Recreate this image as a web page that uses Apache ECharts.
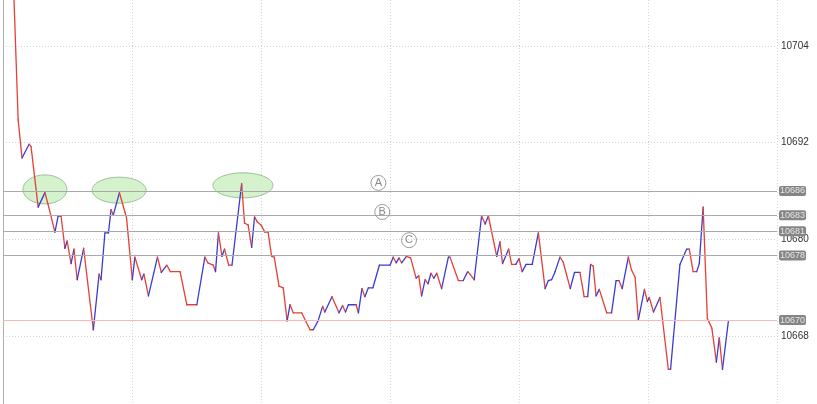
<!DOCTYPE html>
<html><head><meta charset="utf-8">
<script src="https://cdn.jsdelivr.net/npm/echarts@6/dist/echarts.min.js"></script>
<style>html,body{margin:0;padding:0;background:#fff}#c{width:817px;height:404px}</style>
</head><body><div id="c"></div>
<script>
// time index of each turning point of the price line
const times = [3.2,4.7,5.9,8.1,8.7,10.9,13.0,14.0,16.1,17.1,18.0,19.2,19.9,21.1,22.0,23.0,25.0,28.0,29.8,30.4,
31.6,32.7,33.5,34.2,36.1,37.8,38.3,40.1,40.9,43.0,43.7,45.1,47.9,49.1,50.8,51.9,54.9,57.0,60.1,62.6,
63.5,65.2,65.9,66.8,67.9,68.7,70.0,71.0,74.0,74.9,76.0,77.1,78.0,78.8,80.0,81.2,82.2,83.3,84.1,85.6,
86.9,88.1,89.0,90.0,92.6,95.2,96.2,97.7,99.1,99.8,102.0,104.2,105.3,106.2,107.1,109.5,110.2,111.3,112.2,113.3,
114.7,116.7,120.0,121.0,121.9,122.8,123.6,125.1,126.4,128.1,128.9,129.8,130.9,131.8,132.7,133.6,134.5,136.0,138.1,138.6,
141.2,142.7,144.1,144.8,146.1,148.4,149.5,150.5,153.1,154.1,154.9,156.8,157.7,159.0,160.0,161.0,162.2,164.1,166.0,168.1,
169.1,170.1,171.2,172.7,173.7,175.9,177.2,178.9,180.2,181.3,182.2,183.0,183.9,184.9,187.2,188.7,190.1,191.0,192.0,193.9,
194.9,196.0,197.0,198.9,199.8,200.4,201.7,203.7,206.3,207.0,209.9,212.0,212.8,214.0,215.1,215.9,217.1,218.4,219.8,221.2,
222.1,223.1,224.9];
const prices = [10712.2,10694.8,10690.1,10691.8,10691.5,10684.0,10685.8,10684.3,10680.9,10682.9,10682.9,10678.9,10679.8,10677.0,10678.8,10675.0,10678.9,10668.8,10675.7,10675.0,
10680.8,10680.8,10683.7,10683.0,10685.8,10683.4,10682.7,10675.0,10677.8,10675.0,10675.7,10673.0,10677.8,10675.9,10676.8,10676.0,10676.0,10671.9,10671.9,10677.8,
10677.1,10676.8,10676.0,10680.8,10677.9,10678.8,10676.8,10676.8,10686.9,10682.0,10681.8,10679.0,10682.8,10682.2,10681.8,10680.9,10680.9,10677.9,10677.8,10674.2,
10674.0,10669.9,10671.9,10670.9,10670.9,10668.8,10668.8,10669.9,10671.7,10671.0,10672.9,10670.9,10671.8,10671.0,10671.9,10671.9,10670.9,10673.9,10672.9,10674.0,
10674.0,10676.8,10676.8,10677.8,10677.1,10677.7,10677.1,10677.9,10677.7,10675.2,10675.5,10673.0,10675.0,10674.5,10675.8,10675.2,10675.8,10673.9,10677.8,10677.8,
10674.9,10674.9,10676.0,10675.7,10675.0,10682.9,10681.9,10682.9,10677.9,10679.7,10677.0,10678.8,10676.9,10676.9,10677.6,10676.0,10676.9,10676.9,10680.8,10673.9,
10674.9,10675.0,10676.0,10677.8,10677.2,10673.9,10675.9,10675.9,10672.9,10672.9,10676.9,10676.7,10673.0,10673.8,10670.9,10670.9,10674.9,10674.9,10673.9,10677.8,
10676.2,10675.3,10670.0,10673.8,10672.3,10672.8,10671.0,10672.8,10663.9,10663.9,10676.9,10678.8,10678.8,10676.0,10676.0,10677.0,10684.0,10670.2,10669.0,10664.8,
10667.8,10663.9,10669.8];
const levelValues = [10686, 10683, 10681, 10678];
const baseLevel = 10670;
const tickLabels = [10668, 10680, 10692, 10704];
const ellipseCenters = [[13.0, 10686.2], [36.0, 10686.1], [74.4, 10686.7]];
const markerLetters = ['A', 'B', 'C'];
const markerPositions = [[116.4, 10687.0], [117.6, 10683.4], [125.9, 10679.9]];

const UP = '#3b3bd6', DOWN = '#e63f36';
const segs = [];
let lastDir = 0;
for (let k = 1; k < times.length; k++) {
  let d = prices[k] > prices[k-1] ? 1 : (prices[k] < prices[k-1] ? 0 : lastDir);
  lastDir = d;
  segs.push([times[k-1], prices[k-1], times[k], prices[k], d]);
}
const boxLabel = {
  show: true, position: 'end', distance: 2, formatter: p => String(p.value),
  backgroundColor: '#858585', color: '#e6e6e6', fontSize: 9, fontFamily: 'Liberation Sans, Arial',
  padding: [1, 1, 0, 1], borderRadius: 2
};
const chart = echarts.init(document.getElementById('c'), null, {renderer: 'canvas'});
chart.setOption({
  animation: false,
  grid: {left: 3, right: 40, top: -51, bottom: -29, containLabel: false, outerBoundsMode: 'none'},
  xAxis: {type: 'value', min: 0, max: 240, interval: 40,
    axisLine: {show: false}, axisTick: {show: false}, axisLabel: {show: false},
    splitLine: {show: true, lineStyle: {color: '#d4d4d4', type: [1, 2], width: 1}}},
  yAxis: [{type: 'value', position: 'right', min: 10656, max: 10716, interval: 12,
    axisLine: {show: true, lineStyle: {color: '#8a8a8a'}}, axisTick: {show: false},
    axisLabel: {margin: 4, fontSize: 10, color: '#333', fontFamily: 'Liberation Sans, Arial',
      formatter: v => tickLabels.indexOf(v) >= 0 ? String(v) : ''},
    splitLine: {show: true, lineStyle: {color: '#d4d4d4', type: [1, 2], width: 1}}},
   {type: 'value', position: 'left', min: 10656, max: 10716, interval: 12,
    axisLine: {show: true, lineStyle: {color: '#b0b0b0'}}, axisTick: {show: false},
    axisLabel: {show: false}, splitLine: {show: false}}],
  series: [
    {type: 'line', data: [], z: 2, silent: true,
     markLine: {silent: true, symbol: 'none', animation: false,
       data: levelValues.map(v => ({yAxis: v, lineStyle: {color: '#a9a9a9', width: 1, type: 'solid'}, label: boxLabel}))
         .concat([{yAxis: baseLevel, lineStyle: {color: '#f6b8b8', width: 1, type: 'solid'}, label: boxLabel}])}},
    {type: 'custom', z: 4, silent: true, clip: true, data: segs,
     encode: {x: [0, 2], y: [1, 3]},
     renderItem: (params, api) => {
       const a = api.coord([api.value(0), api.value(1)]);
       const b = api.coord([api.value(2), api.value(3)]);
       return {type: 'line', shape: {x1: a[0], y1: a[1], x2: b[0], y2: b[1]},
         style: {stroke: api.value(4) ? UP : DOWN, lineWidth: 1.3, lineCap: 'round'}};
     }}
  ]
});
const ellRadii = [[22, 14.5], [27, 13], [30, 12.5]];
const g = [];
ellipseCenters.forEach((c, k) => {
  const p = chart.convertToPixel({xAxisIndex: 0, yAxisIndex: 0}, c);
  g.push({type: 'ellipse', z: 1, silent: true, shape: {cx: p[0], cy: p[1], rx: ellRadii[k][0], ry: ellRadii[k][1]},
    style: {fill: 'rgba(205,240,195,0.85)', stroke: '#9fbf98', lineWidth: 1}});
});
markerPositions.forEach((c, k) => {
  const p = chart.convertToPixel({xAxisIndex: 0, yAxisIndex: 0}, c);
  g.push({type: 'circle', z: 5, silent: true, shape: {cx: p[0], cy: p[1], r: 7.5},
    style: {fill: 'rgba(255,255,255,0)', stroke: '#9a9a9a', lineWidth: 1}});
  g.push({type: 'text', z: 5, silent: true, x: p[0], y: p[1],
    style: {text: markerLetters[k], fill: '#8a8a8a', fontSize: 11, fontFamily: 'Liberation Sans, Arial', align: 'center', verticalAlign: 'middle'}});
});
chart.setOption({graphic: {elements: g}});
</script></body></html>
